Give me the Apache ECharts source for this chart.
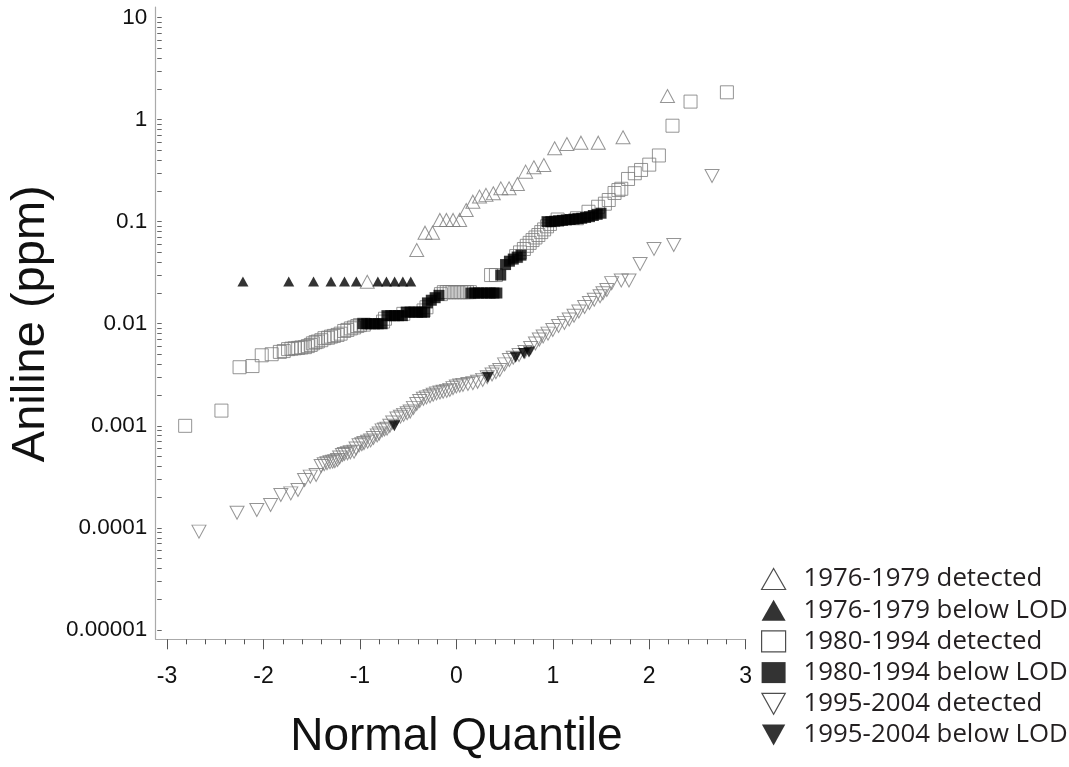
<!DOCTYPE html>
<html>
<head>
<meta charset="utf-8">
<script src="https://cdn.jsdelivr.net/npm/echarts@6/dist/echarts.min.js"></script>
<style>
  html, body { margin: 0; padding: 0; background: #fff; }
  #chart { width: 1069px; height: 767px; }
</style>
</head>
<body>
<div id="chart"></div>
<script>
// tick labels
const yTickValues = [0.00001, 0.0001, 0.001, 0.01, 0.1, 1, 10];
const yTickLabels = ["0.00001", "0.0001", "0.001", "0.01", "0.1", "1", "10"];
const xTickMin = -3;
const xTickMax = 3;

// [normal quantile, aniline ppm]
const tri76Detected = [
  [-0.924, 0.0258], [-0.411, 0.0528], [-0.325, 0.078], [-0.247, 0.078], [-0.171, 0.104],
  [-0.103, 0.104], [-0.034, 0.104], [0.034, 0.104], [0.102, 0.130], [0.171, 0.157],
  [0.240, 0.176], [0.307, 0.183], [0.383, 0.190], [0.461, 0.212], [0.547, 0.212],
  [0.633, 0.234], [0.718, 0.309], [0.804, 0.341], [0.907, 0.359], [1.019, 0.524],
  [1.146, 0.577], [1.292, 0.594], [1.471, 0.594], [1.728, 0.671], [2.189, 1.70]
];
const tri76Below = [
  [-2.213, 0.026], [-1.738, 0.026], [-1.481, 0.026], [-1.300, 0.026], [-1.160, 0.026],
  [-1.037, 0.026], [-0.814, 0.026], [-0.725, 0.026], [-0.640, 0.026], [-0.555, 0.026],
  [-0.473, 0.026]
];
const sq80Detected = [
  [-2.812, 0.00100], [-2.436, 0.00141], [-2.248, 0.00375], [-2.114, 0.00385], [-2.018, 0.00491],
  [-1.915, 0.00503], [-1.830, 0.00530], [-1.79, 0.0054], [-1.745, 0.00564], [-1.71, 0.0057],
  [-1.676, 0.00575], [-1.64, 0.0058], [-1.607, 0.00586], [-1.57, 0.0059], [-1.540, 0.00604],
  [-1.51, 0.0062], [-1.488, 0.00643], [-1.46, 0.0066], [-1.437, 0.00670], [-1.40, 0.0069],
  [-1.368, 0.00722], [-1.33, 0.0073], [-1.300, 0.00748], [-1.27, 0.0076], [-1.232, 0.00777],
  [-1.20, 0.0080], [-1.163, 0.0085], [-1.13, 0.0087], [-1.094, 0.0090], [-1.06, 0.0092],
  [-1.027, 0.0095], [-1.00, 0.0097], [-0.96, 0.0098], [-0.76, 0.0105], [-0.74, 0.0112],
  [-0.55, 0.0125], [-0.34, 0.0135], [-0.31, 0.0145],
  [-0.16, 0.0195], [-0.13, 0.0204], [-0.10, 0.0204], [-0.07, 0.0204], [-0.04, 0.0204],
  [-0.01, 0.0204], [0.02, 0.0204], [0.05, 0.0204], [0.08, 0.0204], [0.11, 0.0204],
  [0.14, 0.0204], [0.36, 0.030], [0.41, 0.030],
  [0.62, 0.046], [0.66, 0.050], [0.70, 0.054], [0.73, 0.058], [0.76, 0.062],
  [0.79, 0.066], [0.82, 0.070], [0.85, 0.074], [0.88, 0.079], [0.91, 0.084],
  [0.94, 0.090], [0.97, 0.095], [1.05, 0.105], [1.25, 0.108], [1.37, 0.125],
  [1.47, 0.140], [1.54, 0.150], [1.58, 0.163], [1.64, 0.191], [1.68, 0.204],
  [1.71, 0.210], [1.78, 0.262], [1.85, 0.298], [1.915, 0.321], [2.00, 0.362],
  [2.10, 0.445], [2.241, 0.871], [2.428, 1.50], [2.805, 1.85]
];
const sq80Below = [
  [-0.97, 0.010], [-0.93, 0.010], [-0.89, 0.010], [-0.85, 0.010], [-0.81, 0.010], [-0.77, 0.010],
  [-0.72, 0.012], [-0.68, 0.012], [-0.64, 0.012], [-0.60, 0.012], [-0.56, 0.012],
  [-0.52, 0.013], [-0.48, 0.013], [-0.44, 0.013], [-0.40, 0.013], [-0.36, 0.013], [-0.33, 0.013],
  [-0.30, 0.016], [-0.26, 0.017], [-0.22, 0.018], [-0.18, 0.019],
  [0.15, 0.020], [0.19, 0.020], [0.23, 0.020], [0.27, 0.020], [0.31, 0.020], [0.35, 0.020],
  [0.39, 0.020], [0.42, 0.020], [0.46, 0.030],
  [0.51, 0.038], [0.55, 0.041], [0.59, 0.043], [0.63, 0.045], [0.67, 0.047],
  [0.94, 0.100], [0.98, 0.100], [1.02, 0.101], [1.06, 0.102], [1.10, 0.103], [1.14, 0.104],
  [1.18, 0.105], [1.22, 0.106], [1.26, 0.107], [1.30, 0.108], [1.34, 0.110], [1.38, 0.112],
  [1.42, 0.115], [1.46, 0.118], [1.50, 0.121]
];
const dt95Detected = [
  [-2.669, 0.000092], [-2.274, 0.000141], [-2.069, 0.000150], [-1.926, 0.000168], [-1.820, 0.000210],
  [-1.717, 0.000218], [-1.642, 0.000235], [-1.574, 0.000295], [-1.515, 0.000318], [-1.454, 0.000330],
  [-1.402, 0.000404], [-1.37, 0.00042], [-1.341, 0.000430], [-1.31, 0.00044], [-1.283, 0.000446],
  [-1.26, 0.00045], [-1.232, 0.000463], [-1.21, 0.00049], [-1.181, 0.000519], [-1.16, 0.00053],
  [-1.129, 0.000538], [-1.10, 0.00055], [-1.061, 0.000559], [-1.04, 0.00060], [-1.009, 0.000644],
  [-0.98, 0.00066], [-0.958, 0.000678], [-0.92, 0.00070], [-0.889, 0.000720], [-0.86, 0.00076],
  [-0.821, 0.000804], [-0.80, 0.00084], [-0.770, 0.000903], [-0.745, 0.00092], [-0.719, 0.000939],
  [-0.69, 0.00100], [-0.66, 0.00108], [-0.616, 0.00118], [-0.58, 0.00123], [-0.547, 0.00128],
  [-0.51, 0.00133], [-0.479, 0.00138], [-0.445, 0.00150], [-0.411, 0.00164], [-0.38, 0.00175],
  [-0.342, 0.00184], [-0.31, 0.00190], [-0.273, 0.00195], [-0.24, 0.00202], [-0.206, 0.00208],
  [-0.17, 0.00212], [-0.137, 0.00216], [-0.10, 0.00220], [-0.068, 0.00225], [-0.035, 0.00234],
  [0.000, 0.00243], [0.035, 0.00248], [0.068, 0.00252], [0.12, 0.00257], [0.171, 0.00262],
  [0.22, 0.00270], [0.273, 0.00282], [0.32, 0.00300], [0.37, 0.00318], [0.41, 0.00335],
  [0.45, 0.00352], [0.50, 0.00400], [0.55, 0.00442], [0.59, 0.00465], [0.65, 0.00495],
  [0.71, 0.00530], [0.77, 0.00580], [0.82, 0.00640], [0.86, 0.00700], [0.90, 0.00750],
  [0.95, 0.00800], [1.00, 0.00870], [1.06, 0.00950], [1.12, 0.0102], [1.17, 0.0110],
  [1.22, 0.0120], [1.27, 0.0132], [1.33, 0.0146], [1.38, 0.0160], [1.43, 0.0172],
  [1.49, 0.0186], [1.52, 0.0199], [1.56, 0.0214], [1.61, 0.0250], [1.71, 0.0265],
  [1.79, 0.0265], [1.905, 0.0385], [2.049, 0.0541], [2.254, 0.0591], [2.651, 0.280]
];
const dt95Below = [
  [-0.643, 0.0010], [0.325, 0.0030], [0.615, 0.0047], [0.701, 0.0051], [0.753, 0.0053]
];

const seriesNames = [
  "1976-1979 detected", "1976-1979 below LOD",
  "1980-1994 detected", "1980-1994 below LOD",
  "1995-2004 detected", "1995-2004 below LOD"
];

// log minor ticks at 1..9 of every decade
const yAllTicks = [];
yTickValues.forEach(function (d, i) {
  if (i < yTickValues.length - 1) {
    for (let k = 1; k <= 9; k++) yAllTicks.push(+(d * k).toPrecision(3));
  } else {
    yAllTicks.push(d);
  }
});

const hollow = { color: "rgba(0,0,0,0)", borderColor: "#7a7a7a", borderWidth: 1 };
const solid = { color: "#000", borderColor: "#000", borderWidth: 0 };

function scatter(name, data, symbol, size, style, rotate) {
  return {
    name: name,
    type: "scatter",
    xAxisIndex: 0,
    yAxisIndex: 0,
    data: data,
    symbol: symbol,
    symbolSize: size,
    symbolRotate: rotate || 0,
    itemStyle: style,
    emphasis: { disabled: true },
    silent: true
  };
}

const legendOpen = { color: "#fff", borderColor: "#222", borderWidth: 1.2 };
const legendFull = { color: "#000", borderWidth: 0 };
const downTri = "path://M0,0 L20,0 L10,18 Z";

const chart = echarts.init(document.getElementById("chart"), null, { renderer: "canvas" });
chart.setOption({
  backgroundColor: "#fff",
  animation: false,
  textStyle: { fontFamily: "Liberation Sans, Arial, sans-serif" },
  grid: [
    { left: 161, right: 323.3, top: 17.5, bottom: 137 },
    // frame for the axis lines, a bit larger than the data area
    { left: 155.7, right: 323.3, top: 7, bottom: 127.7 }
  ],
  legend: {
    orient: "vertical",
    left: 756,
    top: 561,
    itemWidth: 24,
    itemHeight: 21,
    itemGap: 5.2,
    symbolKeepAspect: true,
    selectedMode: false,
    textStyle: { fontFamily: "Open Sans", fontSize: 25.8, color: "#231f20", padding: [0, 0, 0, 13] },
    data: [
      { name: seriesNames[0], icon: "triangle", itemStyle: legendOpen },
      { name: seriesNames[1], icon: "triangle", itemStyle: legendFull },
      { name: seriesNames[2], icon: "rect", itemStyle: legendOpen },
      { name: seriesNames[3], icon: "rect", itemStyle: legendFull },
      { name: seriesNames[4], icon: downTri, itemStyle: legendOpen },
      { name: seriesNames[5], icon: downTri, itemStyle: legendFull }
    ]
  },
  xAxis: [
    {
      type: "value",
      gridIndex: 0,
      min: xTickMin,
      max: xTickMax,
      interval: 1,
      offset: 9.3,
      axisLine: { show: false, onZero: false },
      axisTick: { show: true, inside: false, length: 10, lineStyle: { color: "#555", width: 1 } },
      minorTick: { show: true, splitNumber: 5, length: 5, lineStyle: { color: "#555", width: 1 } },
      splitLine: { show: false },
      axisLabel: { fontSize: 23, color: "#111", margin: 26 },
      name: "Normal Quantile",
      nameLocation: "middle",
      nameGap: 75,
      nameTextStyle: { fontSize: 46, color: "#111" }
    },
    {
      type: "value",
      gridIndex: 1,
      min: 0,
      max: 1,
      axisLine: { show: true, onZero: false, lineStyle: { color: "#aaa", width: 1.2 } },
      axisTick: { show: false },
      axisLabel: { show: false },
      splitLine: { show: false }
    }
  ],
  yAxis: [
    {
      type: "log",
      logBase: 10,
      gridIndex: 0,
      min: yTickValues[0],
      max: yTickValues[yTickValues.length - 1],
      offset: 5.3,
      axisLine: { show: false, onZero: false },
      axisTick: { show: true, inside: false, length: 4.5, customValues: yAllTicks, lineStyle: { color: "#666", width: 1 } },
      splitLine: { show: false },
      axisLabel: {
        customValues: yTickValues,
        fontSize: 22.5,
        color: "#111",
        margin: 14.5,
        formatter: function (v) {
          return yTickLabels[Math.round(Math.log10(v)) + 5];
        }
      },
      name: "Aniline (ppm)",
      nameLocation: "middle",
      nameRotate: 90,
      nameGap: 100,
      nameTextStyle: { fontSize: 47, color: "#111" }
    },
    {
      type: "value",
      gridIndex: 1,
      min: 0,
      max: 1,
      axisLine: { show: true, onZero: false, lineStyle: { color: "#aaa", width: 1.2 } },
      axisTick: { show: false },
      axisLabel: { show: false },
      splitLine: { show: false }
    }
  ],
  series: [
    scatter(seriesNames[0], tri76Detected, "triangle", [14, 13], hollow),
    scatter(seriesNames[1], tri76Below, "triangle", [11, 10], solid),
    scatter(seriesNames[2], sq80Detected, "rect", 13, hollow),
    scatter(seriesNames[3], sq80Below, "rect", 11, solid),
    scatter(seriesNames[4], dt95Detected, "triangle", [14, 13], hollow, 180),
    scatter(seriesNames[5], dt95Below, "triangle", [12, 11], solid, 180)
  ]
});
</script>
</body>
</html>
